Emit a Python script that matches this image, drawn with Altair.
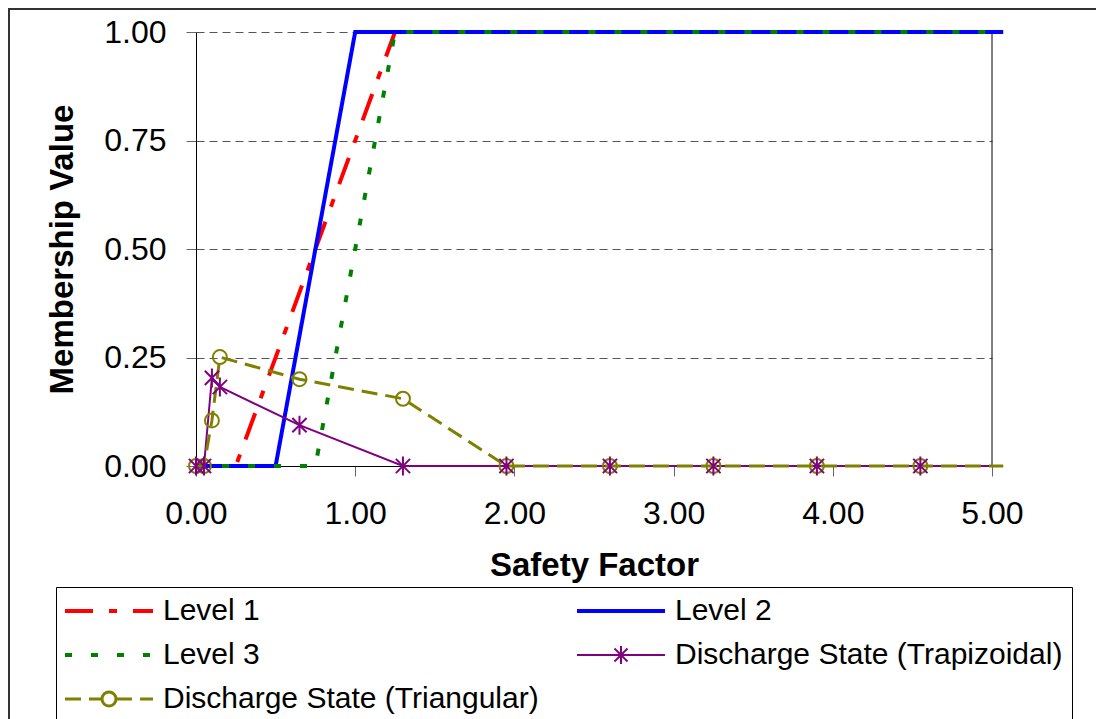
import altair as alt
import pandas as pd

# ---------------- data ----------------
series_names = [
    "Level 1",
    "Level 2",
    "Level 3",
    "Discharge State (Trapizoidal)",
    "Discharge State (Triangular)",
]

level1_x = [0.0, 0.25, 1.25, 5.07]
level1_y = [0.0, 0.0, 1.0, 1.0]
level2_x = [0.0, 0.50, 1.00, 5.07]
level2_y = [0.0, 0.0, 1.0, 1.0]
level3_x = [0.0, 0.75, 1.25, 5.07]
level3_y = [0.0, 0.0, 1.0, 1.0]

discharge_x = [0.0, 0.05, 0.10, 0.15, 0.65, 1.30, 1.95, 2.60, 3.25, 3.90, 4.55, 5.07]
trap_y = [0.0, 0.0, 0.203, 0.182, 0.094, 0.0, 0.0, 0.0, 0.0, 0.0, 0.0, 0.0]
tri_y = [0.0, 0.0, 0.105, 0.251, 0.200, 0.155, 0.0, 0.0, 0.0, 0.0, 0.0, 0.0]
marker_shown = [True] * 11 + [False]

x_ticks = [0, 1, 2, 3, 4, 5]
y_ticks = [0, 0.25, 0.5, 0.75, 1.0]
X_MAX = 5.0

rows = []
for name, xs, ys in [
    (series_names[0], level1_x, level1_y),
    (series_names[1], level2_x, level2_y),
    (series_names[2], level3_x, level3_y),
]:
    for xv, yv in zip(xs, ys):
        rows.append({"series": name, "x": xv, "y": yv, "marker": False})
for name, ys in [(series_names[3], trap_y), (series_names[4], tri_y)]:
    for xv, yv, m in zip(discharge_x, ys, marker_shown):
        rows.append({"series": name, "x": xv, "y": yv, "marker": m})
df = pd.DataFrame(rows)

# ---------------- styles ----------------
colors = ["#FF0000", "#0000FF", "#008000", "#800080", "#808000"]
dashes = [[28, 16, 8, 16], [1, 0], [7, 19], [1, 0], [16, 8]]
widths = [4, 4, 4, 2, 3]
line_path = "M-1.5,0L7.3,0"
star_legend = "M-1.5,0L7.3,0M2.9,-0.9L2.9,0.9M2.25,-0.65L3.55,0.65M2.25,0.65L3.55,-0.65"
circle_legend = (
    "M-1.5,0L2.2,0M3.6,0L7.3,0"
    "M3.6,0A0.7 0.7 0 0 1 2.9,0.7"
    "M2.9,0.7A0.7 0.7 0 0 1 2.2,0"
    "M2.2,0A0.7 0.7 0 0 1 2.9,-0.7"
    "M2.9,-0.7A0.7 0.7 0 0 1 3.6,0"
)
legend_shapes = [line_path, line_path, line_path, star_legend, circle_legend]
star_path = "M0,-1L0,1M-0.75,-0.75L0.75,0.75M-0.75,0.75L0.75,-0.75"

FONT = "Liberation Sans"

PLOT_W, PLOT_H = 796, 434
PAD = {"left": 188, "top": 24, "right": 104, "bottom": 253}

color_scale = alt.Scale(domain=series_names, range=colors)
dash_scale = alt.Scale(domain=series_names, range=dashes)
shape_scale = alt.Scale(domain=series_names, range=legend_shapes)
width_scale = alt.Scale(type="ordinal", domain=series_names, range=widths)

x_scale = alt.Scale(domain=[0, X_MAX], nice=False, zero=False)

x_enc = alt.X(
    "x:Q",
    title="Safety Factor",
    scale=x_scale,
    axis=alt.Axis(
        values=x_ticks, format=".2f", grid=False, tickSize=10, tickColor="#666666",
        domainColor="black", labelFontSize=32, labelFont=FONT, labelColor="black",
        labelPadding=22, labelFlush=False, titleFontSize=33, titleFont=FONT,
        titleFontWeight="bold", titleColor="black", titlePadding=20,
    ),
)
y_enc = alt.Y(
    "y:Q",
    title="Membership Value",
    scale=alt.Scale(domain=[0, 1], nice=False),
    axis=alt.Axis(
        values=y_ticks, format=".2f", grid=True, gridDash=[8, 5], gridColor="#555555",
        gridWidth=1, tickSize=10, tickColor="#666666", domainColor="black",
        labelFontSize=32, labelFont=FONT, labelColor="black", labelPadding=20,
        labelFlush=False, titleFontSize=33, titleFont=FONT, titleFontWeight="bold",
        titleColor="black", titlePadding=24,
    ),
)

legend_def = alt.Legend(
    title=None,
    orient="none",
    direction="horizontal",
    legendX=-140,
    legendY=555,
    columns=2,
    columnPadding=30,
    rowPadding=14,
    padding=9,
    strokeColor="black",
    fillColor="white",
    labelFontSize=30,
    labelFont=FONT,
    labelColor="black",
    labelOffset=68,
    labelLimit=2000,
    symbolSize=400,
    symbolOffset=0,
)

base = alt.Chart(df)

# chart-area frame: left and top edges only (the rest lies outside the picture)
frame_data = alt.Data(values=[{"frame": 1}])
frame_left = alt.Chart(frame_data).mark_rule(color="#333333", strokeWidth=2).encode(
    x=alt.value(-187), y=alt.value(-23), y2=alt.value(PLOT_H + PAD["bottom"])
)
frame_top = alt.Chart(frame_data).mark_rule(color="#333333", strokeWidth=2).encode(
    x=alt.value(-188), x2=alt.value(PLOT_W + PAD["right"]), y=alt.value(-23)
)

right_rule = alt.Chart(pd.DataFrame({"x": [X_MAX]})).mark_rule(
    color="black", strokeWidth=1
).encode(x=alt.X("x:Q", scale=x_scale))

levels = base.transform_filter(
    alt.FieldOneOfPredicate(field="series", oneOf=series_names[:3])
).mark_line(strokeWidth=4).encode(
    x=x_enc, y=y_enc,
    color=alt.Color("series:N", scale=color_scale, legend=legend_def),
    strokeDash=alt.StrokeDash("series:N", scale=dash_scale, legend=legend_def),
)

trap_line = base.transform_filter(
    alt.datum.series == series_names[3]
).mark_line(strokeWidth=2).encode(
    x=x_enc, y=y_enc,
    color=alt.Color("series:N", scale=color_scale, legend=legend_def),
)

tri_line = base.transform_filter(
    alt.datum.series == series_names[4]
).mark_line(strokeWidth=3).encode(
    x=x_enc, y=y_enc,
    color=alt.Color("series:N", scale=color_scale, legend=legend_def),
    strokeDash=alt.StrokeDash("series:N", scale=dash_scale, legend=legend_def),
)

tri_pts = base.transform_filter(
    (alt.datum.series == series_names[4]) & alt.datum.marker
).mark_point(shape="circle", size=196, filled=False, strokeWidth=2, opacity=1).encode(
    x=x_enc, y=y_enc,
    color=alt.Color("series:N", scale=color_scale, legend=legend_def),
)

trap_pts = base.transform_filter(
    (alt.datum.series == series_names[3]) & alt.datum.marker
).mark_point(shape=star_path, size=361, filled=False, strokeWidth=2, opacity=1).encode(
    x=x_enc, y=y_enc,
    color=alt.Color("series:N", scale=color_scale, legend=legend_def),
)

# invisible layer (no rows pass the filter) that carries the combined legend symbols
legend_layer = base.transform_filter("datum.x < -100").mark_point(
    filled=False, opacity=1
).encode(
    x=x_enc, y=y_enc,
    color=alt.Color("series:N", scale=color_scale, legend=legend_def),
    shape=alt.Shape("series:N", scale=shape_scale, legend=legend_def),
    strokeDash=alt.StrokeDash("series:N", scale=dash_scale, legend=legend_def),
    strokeWidth=alt.StrokeWidth("series:N", scale=width_scale, legend=legend_def),
)

chart = alt.layer(
    frame_left, frame_top, right_rule, levels, trap_line, tri_line, tri_pts, trap_pts,
    legend_layer
).properties(
    width=PLOT_W,
    height=PLOT_H,
    autosize=alt.AutoSizeParams(type="none"),
    padding=PAD,
    background="white",
).configure_view(
    strokeWidth=0
)

chart.save("out.html", embed_options={"renderer": "svg", "actions": False})
